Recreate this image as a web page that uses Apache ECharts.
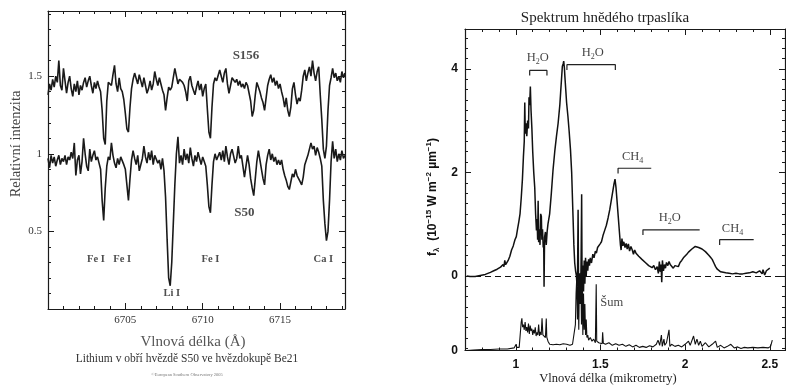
<!DOCTYPE html>
<html><head><meta charset="utf-8">
<script src="https://cdn.jsdelivr.net/npm/echarts@6/dist/echarts.min.js"></script>
<style>html,body{margin:0;padding:0;background:#fff}#c{width:786px;height:385px}</style>
</head><body><div id="c"></div>
<script>
// ================= LEFT PANEL DATA (lithium lines) =================
const liStart = 6700.0, liStep = 0.1;   // wavelength grid, Angstrom
const s156 = [
 1.38,1.45,1.41,1.48,1.43,1.50,1.46,1.60,1.44,1.41,
 1.55,1.47,1.39,1.46,1.50,1.42,1.37,1.45,1.40,1.47,
 1.38,1.44,1.41,1.46,1.49,1.43,1.47,1.50,1.44,1.39,
 1.46,1.42,1.47,1.43,1.40,1.28,1.10,1.06,1.34,1.46,
 1.46,1.44,1.51,1.57,1.45,1.40,1.49,1.42,1.40,1.35,
 1.26,1.16,1.14,1.30,1.42,1.48,1.52,1.53,1.45,1.51,
 1.47,1.43,1.49,1.44,1.39,1.42,1.47,1.41,1.45,1.53,
 1.48,1.44,1.49,1.45,1.41,1.38,1.28,1.36,1.43,1.41,
 1.43,1.49,1.55,1.50,1.45,1.48,1.49,1.46,1.44,1.40,
 1.34,1.47,1.50,1.44,1.41,1.38,1.43,1.47,1.41,1.45,
 1.37,1.42,1.45,1.29,1.14,1.10,1.30,1.45,1.49,1.47,
 1.47,1.54,1.50,1.46,1.52,1.55,1.45,1.39,1.44,1.49,
 1.49,1.46,1.48,1.44,1.47,1.43,1.45,1.42,1.46,1.44,
 1.39,1.34,1.24,1.28,1.38,1.46,1.43,1.40,1.36,1.33,
 1.28,1.36,1.44,1.48,1.51,1.46,1.49,1.44,1.47,1.42,
 1.45,1.40,1.36,1.30,1.36,1.28,1.24,1.30,1.42,1.46,
 1.38,1.32,1.36,1.34,1.41,1.50,1.54,1.47,1.52,1.56,
 1.50,1.60,1.52,1.47,1.53,1.56,1.38,1.22,1.03,0.97,
 1.05,1.28,1.44,1.49,1.55,1.49,1.52,1.47,1.50,1.46,
 1.53,1.49,1.52
];
const s50 = [
 0.97,0.91,0.99,0.94,0.98,0.92,0.96,0.99,0.93,0.97,
 0.95,0.99,0.93,0.98,0.96,1.01,0.97,1.07,0.86,0.96,
 0.99,0.87,0.95,1.10,1.00,0.92,0.89,1.03,0.95,0.99,
 1.02,0.96,0.98,0.94,0.90,0.70,0.57,0.78,0.92,0.98,
 0.96,1.07,0.99,0.94,0.91,0.97,0.93,0.98,0.97,0.93,
 0.90,0.80,0.70,0.84,0.96,1.02,0.97,0.93,0.99,0.89,
 0.89,0.97,1.05,0.98,0.94,1.01,0.96,1.02,0.93,0.99,
 0.98,0.94,0.96,0.90,0.97,0.89,0.72,0.45,0.20,0.15,
 0.30,0.55,0.80,1.00,1.11,0.94,0.99,0.93,1.03,0.96,
 1.00,0.94,1.04,0.97,0.92,0.99,0.95,1.01,0.97,0.93,
 0.98,0.95,0.92,0.80,0.66,0.62,0.80,0.95,1.00,0.96,
 0.97,1.01,0.96,1.02,0.95,1.05,0.98,0.93,1.00,1.03,
 1.02,0.94,0.97,1.05,0.97,0.99,0.92,0.85,0.92,0.99,
 0.93,0.84,0.78,0.73,0.84,0.95,1.02,0.96,0.90,0.84,
 0.80,0.93,0.99,1.03,0.96,1.00,0.95,0.98,0.93,0.96,
 0.93,0.96,0.90,0.86,0.83,0.79,0.77,0.82,0.87,0.85,
 0.90,0.86,0.84,0.82,0.80,0.85,0.93,0.96,0.99,1.03,
 1.07,1.03,1.05,0.99,1.04,1.01,0.97,0.92,0.70,0.55,
 0.44,0.50,0.70,0.95,1.08,0.97,1.03,0.95,1.00,0.96,
 1.02,0.97,0.99
];
const liXMin = 6700, liXMax = 6719.2, liYMin = 0, liYMax = 1.92;
const liXMajor = [6705, 6710, 6715];
const liXMinor = [6701,6702,6703,6704,6706,6707,6708,6709,6711,6712,6713,6714,6716,6717,6718,6719];
const liYMajor = [0.5, 1, 1.5];
const liYMinor = [0.1,0.2,0.3,0.4,0.6,0.7,0.8,0.9,1.1,1.2,1.3,1.4,1.6,1.7,1.8,1.9];
const liNotes = [
  {t:'S156', x:6712.8, y:1.63, bold:true},
  {t:'S50',  x:6712.7, y:0.62, bold:true},
  {t:'Fe I', x:6703.1, y:0.32},
  {t:'Fe I', x:6704.8, y:0.32},
  {t:'Fe I', x:6710.5, y:0.32},
  {t:'Ca I', x:6717.8, y:0.32},
  {t:'Li I', x:6708.0, y:0.10}
];

// ================= RIGHT PANEL DATA (brown dwarf) =================
const nirWave = [0.71,0.73,0.76,0.79,0.82,0.85,0.87,0.89,0.91,0.925,0.93,0.935,0.94,0.955,0.965,0.975,0.985,0.995,1.003,1.01,1.018,1.025,1.032,1.039,1.045,1.05,1.053,1.056,1.06,1.065,1.07,1.075,1.078,1.082,1.086,1.09,1.095,1.10,1.106,1.112,1.117,1.122,1.126,1.129,1.132,1.135,1.14,1.143,1.147,1.151,1.154,1.158,1.162,1.165,1.167,1.17,1.175,1.18,1.185,1.19,1.20,1.21,1.22,1.23,1.24,1.25,1.26,1.265,1.27,1.275,1.28,1.283,1.287,1.29,1.295,1.30,1.308,1.315,1.323,1.33,1.338,1.343,1.348,1.353,1.358,1.362,1.365,1.368,1.371,1.375,1.379,1.383,1.386,1.389,1.392,1.396,1.40,1.404,1.408,1.412,1.416,1.42,1.425,1.43,1.435,1.44,1.447,1.455,1.462,1.47,1.476,1.483,1.49,1.498,1.506,1.515,1.525,1.535,1.545,1.555,1.565,1.574,1.58,1.586,1.592,1.598,1.605,1.612,1.618,1.622,1.627,1.632,1.638,1.645,1.652,1.658,1.665,1.672,1.68,1.688,1.695,1.702,1.71,1.718,1.726,1.735,1.745,1.755,1.765,1.775,1.785,1.795,1.805,1.815,1.825,1.835,1.842,1.848,1.853,1.858,1.862,1.866,1.872,1.878,1.884,1.89,1.898,1.905,1.912,1.92,1.93,1.94,1.95,1.96,1.97,1.98,1.99,2.00,2.01,2.02,2.03,2.04,2.05,2.06,2.07,2.08,2.09,2.10,2.11,2.12,2.13,2.14,2.15,2.16,2.17,2.18,2.19,2.20,2.21,2.22,2.24,2.26,2.28,2.30,2.32,2.34,2.36,2.38,2.40,2.42,2.44,2.455,2.46,2.47,2.48,2.49,2.50];
const nirFlux = [0.00,-0.01,-0.01,0.01,0.03,0.07,0.10,0.13,0.17,0.22,0.18,0.30,0.22,0.30,0.38,0.50,0.58,0.70,0.76,0.90,1.05,1.20,1.50,1.86,2.30,2.60,3.35,2.75,2.95,2.70,3.00,2.85,3.45,3.30,3.66,3.20,2.85,2.40,2.00,1.70,1.20,0.88,1.10,0.70,1.45,0.65,0.90,0.60,1.20,1.15,0.70,0.90,0.55,0.60,-0.21,0.75,0.85,0.60,0.85,1.00,1.20,1.60,2.05,2.40,2.69,2.95,3.30,3.55,3.80,4.05,4.10,4.15,4.02,3.85,3.60,3.35,3.08,2.80,2.44,2.00,1.15,0.60,0.25,0.10,0.00,-0.20,0.10,1.28,-0.30,0.05,-0.25,-0.40,0.40,1.58,-0.50,0.20,-0.30,0.30,-0.15,0.35,0.00,0.28,0.10,0.32,0.20,0.35,0.25,0.42,0.35,0.48,0.44,0.55,0.52,0.62,0.66,0.78,0.88,0.98,1.12,1.28,1.48,1.66,1.78,1.87,1.70,1.45,1.15,0.85,0.60,0.50,0.72,0.58,0.66,0.55,0.63,0.52,0.62,0.48,0.57,0.50,0.42,0.50,0.44,0.46,0.38,0.40,0.32,0.35,0.26,0.28,0.20,0.22,0.16,0.20,0.12,0.18,0.05,0.28,0.08,0.22,-0.12,0.30,0.10,0.22,0.15,0.26,0.20,0.28,0.22,0.25,0.15,0.20,0.22,0.18,0.26,0.30,0.35,0.38,0.42,0.46,0.48,0.52,0.54,0.57,0.58,0.55,0.56,0.52,0.50,0.47,0.44,0.40,0.36,0.32,0.25,0.18,0.13,0.10,0.08,0.07,0.06,0.05,0.04,0.05,0.04,0.04,0.05,0.06,0.08,0.06,0.10,0.04,0.12,0.02,0.10,0.08,0.15];
// noise spectrum, measured from its own zero line at the bottom of the frame
const noiseWave = [0.71,0.75,0.80,0.85,0.90,0.95,0.99,1.00,1.002,1.005,1.02,1.03,1.032,1.036,1.04,1.045,1.05,1.055,1.06,1.065,1.07,1.075,1.08,1.085,1.09,1.095,1.10,1.105,1.11,1.115,1.12,1.125,1.13,1.135,1.14,1.145,1.15,1.155,1.16,1.165,1.17,1.175,1.18,1.183,1.19,1.20,1.22,1.24,1.26,1.28,1.29,1.30,1.32,1.335,1.345,1.352,1.356,1.36,1.364,1.368,1.372,1.376,1.38,1.384,1.388,1.392,1.396,1.40,1.404,1.408,1.412,1.416,1.42,1.425,1.43,1.44,1.45,1.46,1.47,1.475,1.478,1.49,1.50,1.51,1.513,1.517,1.53,1.55,1.57,1.59,1.61,1.63,1.65,1.67,1.69,1.71,1.73,1.75,1.77,1.79,1.81,1.83,1.84,1.85,1.86,1.865,1.875,1.88,1.89,1.905,1.91,1.92,1.94,1.96,1.98,2.00,2.02,2.03,2.05,2.06,2.07,2.08,2.09,2.10,2.12,2.14,2.16,2.18,2.19,2.21,2.23,2.25,2.27,2.29,2.31,2.33,2.35,2.37,2.40,2.43,2.46,2.49,2.505,2.515];
const noiseFlux = [0.00,0.01,0.02,0.02,0.03,0.03,0.05,0.06,0.12,0.06,0.06,0.07,0.55,0.62,0.45,0.50,0.40,0.55,0.38,0.45,0.35,0.52,0.32,0.48,0.38,0.42,0.30,0.40,0.33,0.45,0.28,0.35,0.30,0.50,0.28,0.36,0.30,0.62,0.30,0.28,0.32,0.25,0.62,0.26,0.18,0.12,0.11,0.12,0.11,0.13,0.16,0.12,0.10,0.12,0.14,0.50,1.10,1.40,0.60,1.30,0.40,1.45,0.90,1.50,0.50,1.30,0.30,1.10,0.40,0.90,0.30,0.60,0.25,0.30,0.20,0.25,0.18,0.22,0.15,1.28,0.18,0.15,0.18,0.13,0.35,0.14,0.12,0.15,0.10,0.13,0.10,0.12,0.08,0.11,0.07,0.10,0.06,0.08,0.06,0.09,0.07,0.12,0.20,0.10,0.30,0.08,0.22,0.10,0.15,0.40,0.08,0.12,0.08,0.10,0.07,0.12,0.18,0.10,0.28,0.12,0.22,0.10,0.18,0.08,0.15,0.07,0.12,0.18,0.06,0.10,0.05,0.08,0.12,0.05,0.07,0.04,0.06,0.05,0.06,0.05,0.06,0.05,0.08,0.20];
const nirXMin = 0.7, nirXMax = 2.59, nirYMin = -1.44, nirYMax = 4.77;
const nirXMajor = [1, 1.5, 2, 2.5];
const nirXMinor = [0.8,0.9,1.1,1.2,1.3,1.4,1.6,1.7,1.8,1.9,2.1,2.2,2.3,2.4];
const nirYMajor = [0, 2, 4];
const nirYLabels = [-1.44, 0, 2, 4];      // bottom value is the zero of the noise curve
const nirYMinor = [-1.4,-1.2,-1.0,-0.8,-0.6,-0.4,-0.2,0.2,0.4,0.6,0.8,1.0,1.2,1.4,1.6,1.8,2.2,2.4,2.6,2.8,3.0,3.2,3.4,3.6,3.8,4.2,4.4,4.6];
const bands = [
  {x1:1.082, x2:1.184, y:3.97, drop:0.10, ends:'both'},
  {x1:1.302, x2:1.588, y:4.08, drop:0.10, ends:'both'},
  {x1:1.604, x2:1.800, y:2.08, drop:0.10, ends:'left'},
  {x1:1.751, x2:2.086, y:0.89, drop:0.10, ends:'left'},
  {x1:2.204, x2:2.405, y:0.70, drop:0.10, ends:'left'}
];
const nirNotes = [
  {t:'{n|H}{s|2}{n|O}',  x:1.130, y:4.22},
  {t:'{n|H}{s|2}{n|O}',  x:1.454, y:4.31},
  {t:'{n|CH}{s|4}',      x:1.690, y:2.30},
  {t:'{n|H}{s|2}{n|O}',  x:1.909, y:1.12},
  {t:'{n|CH}{s|4}',      x:2.280, y:0.91},
  {t:'{n|Šum}',          x:1.567, y:-0.52}
];

// ================= CHART =================
const SERIF = '"Liberation Serif","DejaVu Serif",serif';
const SANS = '"Liberation Sans","DejaVu Sans",sans-serif';
const INK = '#1a1a1a';

function frameAxes(dim, grid, min, max, major, minor, labels, lab) {
  const sides = dim === 'x' ? ['bottom', 'top'] : ['left', 'right'];
  const out = [];
  sides.forEach((pos, si) => {
    out.push({
      type: 'value', gridIndex: grid, position: pos, min: min, max: max,
      axisLine: {show: true, onZero: false, lineStyle: {color: INK, width: 1.2}},
      axisTick: {show: true, inside: true, length: 6, customValues: major, lineStyle: {color: INK, width: 1}},
      axisLabel: si === 0 ? Object.assign({show: true, customValues: labels}, lab) : {show: false},
      splitLine: {show: false}
    });
    out.push({
      type: 'value', gridIndex: grid, position: pos, min: min, max: max,
      axisLine: {show: false, onZero: false},
      axisTick: {show: true, inside: true, length: 3, customValues: minor, lineStyle: {color: INK, width: 1}},
      axisLabel: {show: false},
      splitLine: {show: false}
    });
  });
  return out;
}

const leftLab = {fontFamily: SERIF, fontSize: 11, color: '#333', margin: 6,
  formatter: v => String(+v.toFixed(2))};
const rightLabX = {fontFamily: SANS, fontWeight: 'bold', fontSize: 12, color: '#111', margin: 8,
  formatter: v => String(+v.toFixed(2))};
const rightLabY = {fontFamily: SANS, fontWeight: 'bold', fontSize: 12, color: '#111', margin: 7,
  formatter: v => (v < -1 ? '0' : String(+v.toFixed(2)))};

const xAxes = [].concat(
  frameAxes('x', 0, liXMin, liXMax, liXMajor, liXMinor, liXMajor, leftLab),
  frameAxes('x', 1, nirXMin, nirXMax, nirXMajor, nirXMinor, nirXMajor, rightLabX)
);
const yAxes = [].concat(
  frameAxes('y', 0, liYMin, liYMax, liYMajor, liYMinor, liYMajor, leftLab),
  frameAxes('y', 1, nirYMin, nirYMax, nirYMajor, nirYMinor, nirYLabels, rightLabY),
  [{type: 'value', gridIndex: 1, min: 0, max: nirYMax - nirYMin, show: false, axisLine: {onZero: false}, splitLine: {show: false}}]
);

const series = [];
series.push({type: 'line', name: 'S156', xAxisIndex: 0, yAxisIndex: 0, symbol: 'none',
  data: s156.map((v, i) => [liStart + i * liStep, v]), lineStyle: {color: INK, width: 1.6}, z: 3});
series.push({type: 'line', name: 'S50', xAxisIndex: 0, yAxisIndex: 0, symbol: 'none',
  data: s50.map((v, i) => [liStart + i * liStep, v]), lineStyle: {color: INK, width: 1.6}, z: 3});
series.push({type: 'scatter', xAxisIndex: 0, yAxisIndex: 0, symbolSize: 0, silent: true,
  data: liNotes.map(n => ({value: [n.x, n.y], name: n.t,
    label: {fontWeight: 'bold', fontSize: n.bold ? 13 : 10.5}})),
  label: {show: true, position: 'inside', formatter: p => p.name, fontFamily: SERIF, color: '#222'}});

series.push({type: 'line', name: 'flux', xAxisIndex: 4, yAxisIndex: 4, symbol: 'none',
  data: nirWave.map((w, i) => [w, nirFlux[i]]), lineStyle: {color: '#111', width: 1.5}, z: 3,
  markLine: {silent: true, symbol: ['none', 'none'], label: {show: false},
    lineStyle: {type: [6, 4], color: '#111', width: 1.2}, data: [{yAxis: 0}]}});
series.push({type: 'line', name: 'noise', xAxisIndex: 4, yAxisIndex: 8, symbol: 'none',
  data: noiseWave.map((w, i) => [w, noiseFlux[i]]), lineStyle: {color: '#111', width: 1.1}, z: 2});
bands.forEach(b => {
  const pts = [[b.x1, b.y - b.drop], [b.x1, b.y], [b.x2, b.y]];
  if (b.ends === 'both') pts.push([b.x2, b.y - b.drop]);
  series.push({type: 'line', xAxisIndex: 4, yAxisIndex: 4, symbol: 'none', silent: true,
    data: pts, lineStyle: {color: '#222', width: 1.2}});
});
series.push({type: 'scatter', xAxisIndex: 4, yAxisIndex: 4, symbolSize: 0, silent: true,
  data: nirNotes.map(n => ({value: [n.x, n.y], name: n.t})),
  label: {show: true, position: 'inside', formatter: p => p.name,
    rich: {n: {fontFamily: SERIF, fontSize: 12.5, color: '#111', lineHeight: 16},
           s: {fontFamily: SERIF, fontSize: 8, color: '#111', verticalAlign: 'bottom', lineHeight: 16}}}});

const chart = echarts.init(document.getElementById('c'), null, {renderer: 'canvas'});
chart.setOption({
  animation: false,
  backgroundColor: '#fff',
  grid: [
    {left: 48, top: 11, width: 297, height: 298, containLabel: false},
    {left: 465, top: 29, width: 320, height: 321.5, containLabel: false}
  ],
  xAxis: xAxes,
  yAxis: yAxes,
  series: series,
  graphic: [
    {type: 'text', x: 16, y: 144, rotation: Math.PI / 2,
      style: {text: 'Relativní intenzita', font: '14.5px ' + SERIF, fill: '#444', align: 'center', verticalAlign: 'middle'}},
    {type: 'text', x: 193, y: 342,
      style: {text: 'Vlnová délka (Å)', font: '15px ' + SERIF, fill: '#555', align: 'center', verticalAlign: 'middle'}},
    {type: 'text', x: 187, y: 359,
      style: {text: 'Lithium v obří hvězdě S50 ve hvězdokupě Be21', font: '11.5px ' + SERIF, fill: '#333', align: 'center', verticalAlign: 'middle'}},
    {type: 'text', x: 187, y: 375,
      style: {text: '©European Southern Observatory 2005', font: '4.5px ' + SERIF, fill: '#777', align: 'center', verticalAlign: 'middle'}},
    {type: 'text', x: 605, y: 18,
      style: {text: 'Spektrum hnědého trpaslíka', font: '15px ' + SERIF, fill: '#222', align: 'center', verticalAlign: 'middle'}},
    {type: 'text', x: 608, y: 379,
      style: {text: 'Vlnová délka (mikrometry)', font: '12.5px ' + SERIF, fill: '#222', align: 'center', verticalAlign: 'middle'}},
    {type: 'text', x: 433, y: 197, rotation: Math.PI / 2,
      style: {text: '{b|f}{sb|λ}{b|  (10}{sp|−15}{b| W m}{sp|−2}{b| µm}{sp|−1}{b|)}', align: 'center', verticalAlign: 'middle',
        rich: {
          b:  {font: 'bold 12px ' + SANS, fill: '#111', lineHeight: 16},
          sb: {font: 'bold 8px ' + SANS, fill: '#111', lineHeight: 16, verticalAlign: 'bottom'},
          sp: {font: 'bold 8px ' + SANS, fill: '#111', lineHeight: 16, verticalAlign: 'top'}
        }}}
  ]
});
</script>
</body></html>
